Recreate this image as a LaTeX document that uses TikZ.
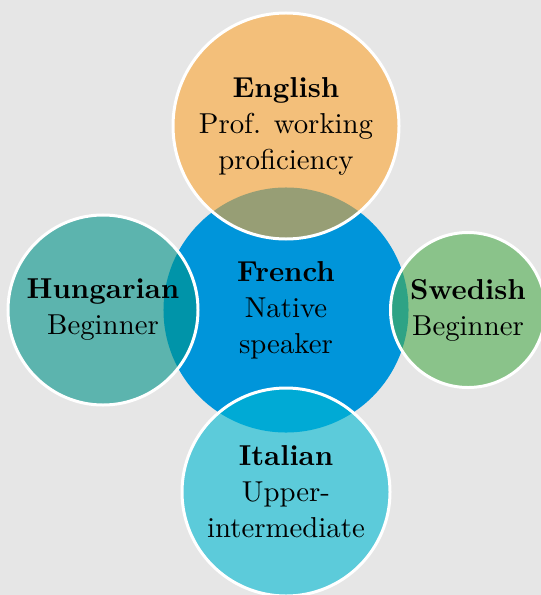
\documentclass[tikz,border=0pt]{standalone}
\definecolor{bg}{RGB}{230,230,230}
\definecolor{cfr}{RGB}{0,149,218}
\definecolor{cen}{RGB}{252,165,50}
\definecolor{chu}{RGB}{0,148,137}
\definecolor{csw}{RGB}{78,173,77}
\definecolor{cit}{RGB}{0,185,210}
\begin{document}
\begin{tikzpicture}[x=0.3472pt,y=-0.3472pt,
  bubtext/.style={align=center,font=\fontsize{10}{12.5}\selectfont,inner sep=0pt},
  bub/.style={circle,inner sep=0pt,draw=white,line width=1.04pt,fill opacity=0.6,draw opacity=1}]
\fill[bg] (0,0) rectangle (541,595);
\useasboundingbox (0,0) rectangle (541,595);
\node[circle,inner sep=0pt,fill=cfr,minimum size=85.07pt] (fr) at (286,310) {};
\node[bub,fill=cen,minimum size=78.47pt] (en) at (286,126) {};
\node[bub,fill=chu,minimum size=65.97pt] (hu) at (103,310) {};
\node[bub,fill=csw,minimum size=53.82pt] (sw) at (468,310) {};
\node[bub,fill=cit,minimum size=72.22pt] (it) at (286,492) {};
\node[bubtext] (frt) at (fr) {\textbf{French}\\Native\\speaker};
\node[bubtext] (ent) at (en) {\textbf{English}\\Prof. working\\proficiency};
\node[bubtext] (hut) at (hu) {\textbf{Hungarian}\\Beginner};
\node[bubtext] (swt) at (sw) {\textbf{Swedish}\\Beginner};
\node[bubtext] (itt) at (it) {\textbf{Italian}\\Upper-\\intermediate};
\end{tikzpicture}
\end{document}
